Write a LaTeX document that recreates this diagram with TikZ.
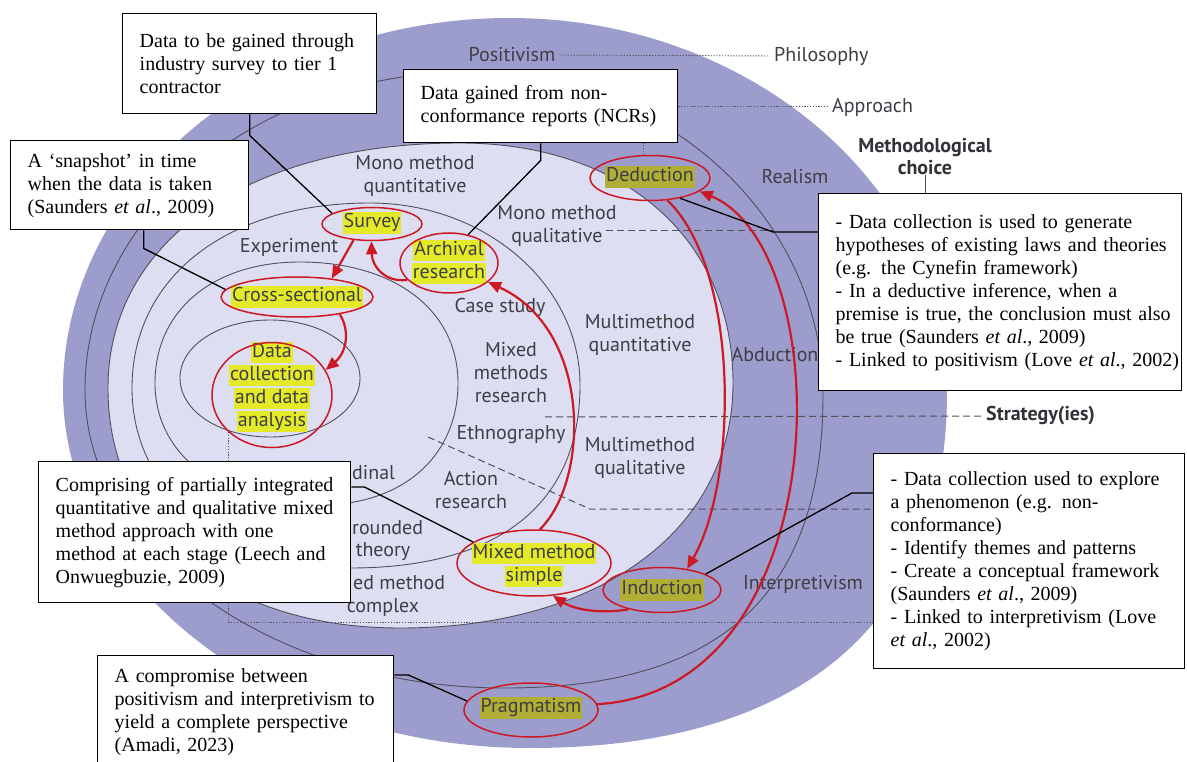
\documentclass[tikz,border=0pt]{standalone}
\usepackage{fontspec}
\setmainfont{Liberation Serif}
\newfontfamily\labfont{PT Sans}
\usetikzlibrary{shapes.geometric,arrows.meta,calc}
\definecolor{darkp}{RGB}{157,157,205}
\definecolor{lightp}{RGB}{221,222,241}
\definecolor{ringc}{RGB}{80,80,95}
\definecolor{labc}{RGB}{62,62,70}
\definecolor{redc}{RGB}{205,25,35}
\definecolor{hlL}{RGB}{228,234,40}
\definecolor{hlD}{RGB}{176,174,52}
% oval through left, top, right, bottom extreme points; tension per quadrant in \kA..\kD
\newcommand\onionpath[8]{(#1,#2) .. controls (#1,{#2-\kA*(#2-#4)}) and ({#3-\kA*(#3-#1)},#4) .. (#3,#4) .. controls ({#3+\kB*(#5-#3)},#4) and (#5,{#6-\kB*(#6-#4)}) .. (#5,#6) .. controls (#5,{#6+\kC*(#8-#6)}) and ({#7+\kC*(#5-#7)},#8) .. (#7,#8) .. controls ({#7-\kD*(#7-#1)},#8) and (#1,{#2+\kD*(#8-#2)}) .. cycle}
\newcommand\setk[4]{\def\kA{#1}\def\kB{#2}\def\kC{#3}\def\kD{#4}}
\newcommand\hlA[1]{{\setlength{\fboxsep}{1pt}\colorbox{hlL}{\rule[-5pt]{0pt}{19pt}#1}}}
\newcommand\hlB[1]{{\setlength{\fboxsep}{1pt}\colorbox{hlD}{\rule[-5pt]{0pt}{19pt}#1}}}
\pgfdeclarelayer{boxes}
\pgfsetlayers{main,boxes}
\begin{document}
\begin{tikzpicture}[x=1pt,y=-1pt,
  lab/.style={font=\labfont\fontsize{20}{23}\selectfont, text=labc, align=center, inner sep=0pt},
  labb/.style={font=\labfont\bfseries\fontsize{20}{22}\selectfont, text=labc!80!black, align=center, inner sep=0pt},
  redell/.style={ellipse, draw=redc, line width=1.5pt, inner sep=0pt},
  redarr/.style={draw=redc, line width=2.2pt, -{Triangle[length=13pt,width=11pt]}},
  conn/.style={draw=black, line width=1.3pt},
  box/.style={draw=black, line width=1.4pt, fill=white, anchor=north west, align=left, inner xsep=17pt, inner ysep=2pt, font=\fontsize{20}{23}\selectfont},
  ring/.style={draw=ringc, line width=0.9pt},
  dashl/.style={draw=ringc, line width=1pt, dash pattern=on 7pt off 4pt},
  dotl/.style={draw=ringc, line width=0.9pt, dash pattern=on 1.2pt off 1.6pt}
]
\clip (0,0) rectangle (1187,762);
\fill[white] (0,0) rectangle (1187,762);
% onion
\setk{0.55}{0.55}{0.65}{0.55}
\fill[darkp] \onionpath{63}{390}{510}{18}{947}{392}{530}{748};
\setk{0.55}{0.55}{0.68}{0.55}
\draw[ring] \onionpath{85}{390}{470}{72}{823}{395}{505}{688};
\setk{0.6}{0.6}{0.6}{0.6}
\filldraw[fill=lightp, ring] \onionpath{108}{388}{460}{143}{733}{383}{400}{628};
\setk{0.6}{0.55}{0.65}{0.58}
\draw[ring] \onionpath{132}{388}{370}{203}{580}{385}{350}{568};
\setk{0.6}{0.6}{0.6}{0.6}
\draw[ring] \onionpath{155}{383}{300}{262}{458}{383}{320}{505};
\setk{0.56}{0.56}{0.56}{0.56}
\draw[ring] \onionpath{180}{378}{270}{320}{360}{378}{270}{437};

% boxes
\begin{pgfonlayer}{boxes}
\node[box, minimum width=254pt, minimum height=100pt, text width=220pt] (b1) at (122,13) {\mbox{Data to be gained through}\\\mbox{industry survey to tier 1}\\\mbox{contractor}};
\node[box, minimum width=238pt, minimum height=89pt, text width=204pt] (b2) at (10,140) {\mbox{A ‘snapshot’ in time}\\\mbox{when the data is taken}\\\mbox{(Saunders \textit{et al}., 2009)}};
\node[box, minimum width=274pt, minimum height=73pt, text width=240pt] (b3) at (403,69) {\mbox{Data gained from non-}\\\mbox{conformance reports (NCRs)}};
\node[box, minimum width=363pt, minimum height=197pt, text width=329pt] (b4) at (818,193) {\mbox{- Data collection is used to generate}\\\mbox{hypotheses of existing laws and theories}\\\mbox{(e.g. the Cynefin framework)}\\\mbox{- In a deductive inference, when a}\\\mbox{premise is true, the conclusion must also}\\\mbox{be true (Saunders \textit{et al}., 2009)}\\\mbox{- Linked to positivism (Love \textit{et al}., 2002)}};
\node[box, minimum width=311pt, minimum height=215pt, text width=277pt] (b5) at (873,453) {\mbox{- Data collection used to explore}\\\mbox{a phenomenon (e.g. non-}\\\mbox{conformance)}\\\mbox{- Identify themes and patterns}\\\mbox{- Create a conceptual framework}\\\mbox{(Saunders \textit{et al}., 2009)}\\\mbox{- Linked to interpretivism (Love}\\\mbox{\textit{et al}., 2002)}};
\node[box, minimum width=312pt, minimum height=141pt, text width=278pt] (b6) at (38,461) {\mbox{Comprising of partially integrated}\\\mbox{quantitative and qualitative mixed}\\\mbox{method approach with one}\\\mbox{method at each stage (Leech and}\\\mbox{Onwuegbuzie, 2009)}};
\node[box, minimum width=296pt, minimum height=113pt, text width=262pt] (b7) at (97,655) {\mbox{A compromise between}\\\mbox{positivism and interpretivism to}\\\mbox{yield a complete perspective}\\\mbox{(Amadi, 2023)}};
\end{pgfonlayer}

% layer marker coordinates
\coordinate (dq) at (606,231);
\coordinate (s1) at (545,417);
\coordinate (m1) at (428,437);
\coordinate (m2) at (590,509);
\coordinate (t1) at (228,432);
\coordinate (t2) at (228,622);
\coordinate (dk) at ([xshift=-45pt,yshift=-39pt]b4.north west);
\coordinate (ik) at ([xshift=-21pt,yshift=-40pt]b5.north west);

% labels
\node[lab] (positivism) at (512,55) {Positivism};
\node[lab, anchor=west] (philosophy) at (774,56) {Philosophy};
\node[lab, anchor=west] (approach) at (832,107) {Approach};
\node[labb] (mchoice) at (925,157) {Methodological\\choice};
\node[lab] (realism) at (795,177) {Realism};
\node[lab] (abduction) at (775,355) {Abduction};
\node[lab] (interp) at (803,584) {Interpretivism};
\node[labb, anchor=west] (strategy) at (986,416) {Strategy(ies)};
\node[lab] (monoquant) at (415,176) {Mono method\\quantitative};
\node[lab] (monoqual) at (557,226) {Mono method\\qualitative};
\node[lab] (multiquant) at (640,335) {Multimethod\\quantitative};
\node[lab] (multiqual) at (640,458) {Multimethod\\qualitative};
\node[lab, anchor=west] (mixcomplex) at (353,583) {ed method};
\node[lab] (complex) at (383,607) {complex};
\node[lab, anchor=west] (longit) at (352,473) {dinal};
\node[lab, anchor=west] (grounded) at (352,528) {rounded};
\node[lab] (theory) at (383,552) {theory};
\node[lab] (action) at (471,490) {Action\\research};
\node[lab] (ethno) at (511,435) {Ethnography};
\node[lab] (mixedres) at (511,373) {Mixed\\methods\\research};
\node[lab] (casestudy) at (500,307) {Case study};
\node[lab] (experiment) at (289,247) {Experiment};

% layer marker lines
\draw[dotl, shorten <=4pt, shorten >=4pt] (positivism.east) -- (philosophy.west);
\draw[dotl, shorten >=4pt] (b3.east) -- (b3.east -| approach.west);
\draw[draw=ringc, line width=1pt] (mchoice.south) -- (mchoice.south |- b4.north);
\draw[dashl] (dq) -- (dq -| dk);
\draw[dashl, shorten >=5pt] (s1) -- (strategy.west);
\draw[dashl] (m1) -- (m2) -- (m2 -| b5.west);
\draw[dotl] (t1) -- (t2) -- (t2 -| b5.west);

% highlighted texts
\node[lab] (surveyt) at (372,223) {\hlA{Survey}};
\node[lab] (archivalt) at (449,262) {\hlA{Archival}\\\hlA{research}};
\node[lab] (crosst) at (297,297) {\hlA{Cross-sectional}};
\node[lab] (datat) at (272,387) {\hlA{Data}\\\hlA{collection}\\\hlA{and data}\\\hlA{analysis}};
\node[lab] (deductiont) at (650,177) {\hlB{Deduction}};
\node[lab] (inductiont) at (662,590) {\hlB{Induction}};
\node[lab] (mmst) at (534,565) {\hlA{Mixed method}\\\hlA{simple}};
\node[lab] (pragt) at (531,708) {\hlB{Pragmatism}};

% red ellipses
\node[redell, minimum width=100pt, minimum height=33pt] (survey) at (372,224) {};
\node[redell, minimum width=98pt, minimum height=60pt] (archival) at (449,263) {};
\node[redell, minimum width=152pt, minimum height=40pt] (cross) at (297,297) {};
\node[redell, minimum width=120pt, minimum height=105pt] (datac) at (272,395) {};
\node[redell, minimum width=120pt, minimum height=45pt] (deduction) at (650,178) {};
\node[redell, minimum width=118pt, minimum height=45pt] (induction) at (662,590) {};
\node[redell, minimum width=154pt, minimum height=66pt] (mms) at (534,563) {};
\node[redell, minimum width=134pt, minimum height=54pt] (prag) at (531,710) {};

\draw[dotl] ([xshift=-7pt]deduction.north) -- ([xshift=-7pt]deduction.north |- b3.south);

% red arrows
\draw[redarr] (survey.221) -- (cross.28);
\draw[redarr] (cross.338) .. controls (350,330) and (347,352) .. (datac.25);
\draw[redarr] (archival.202) .. controls (385,283) and (372,266) .. (survey.268);
\draw[redarr] (mms.80) .. controls (590,480) and (592,330) .. (archival.334);
\draw[redarr] (deduction.308) .. controls (740,270) and (738,480) .. (induction.40);
\draw[redarr] (prag.5) .. controls (840,690) and (840,250) .. (deduction.345);
\draw[redarr] (induction.210) .. controls (602,614) and (575,610) .. (mms.300);

% black connectors
\draw[conn] (b1.south) -- ++(0,21) -- (survey.165);
\draw[conn] ([xshift=14pt]b2.south) -- ++(0,18) -- (cross.174);
\draw[conn] (b3.south) -- ++(0,17) -- (archival.56);
\draw[conn] (deduction.326) -- (dk) -- (dk -| b4.west);
\draw[conn] (induction.20) -- (ik) -- (ik -| b5.west);
\draw[conn] ([yshift=-26pt]b6.north east) -- ++(13,0) -- (mms.161);
\draw[conn] ([yshift=-20pt]b7.north east) -- ++(14,0) -- (prag.172);
\end{tikzpicture}
\end{document}
